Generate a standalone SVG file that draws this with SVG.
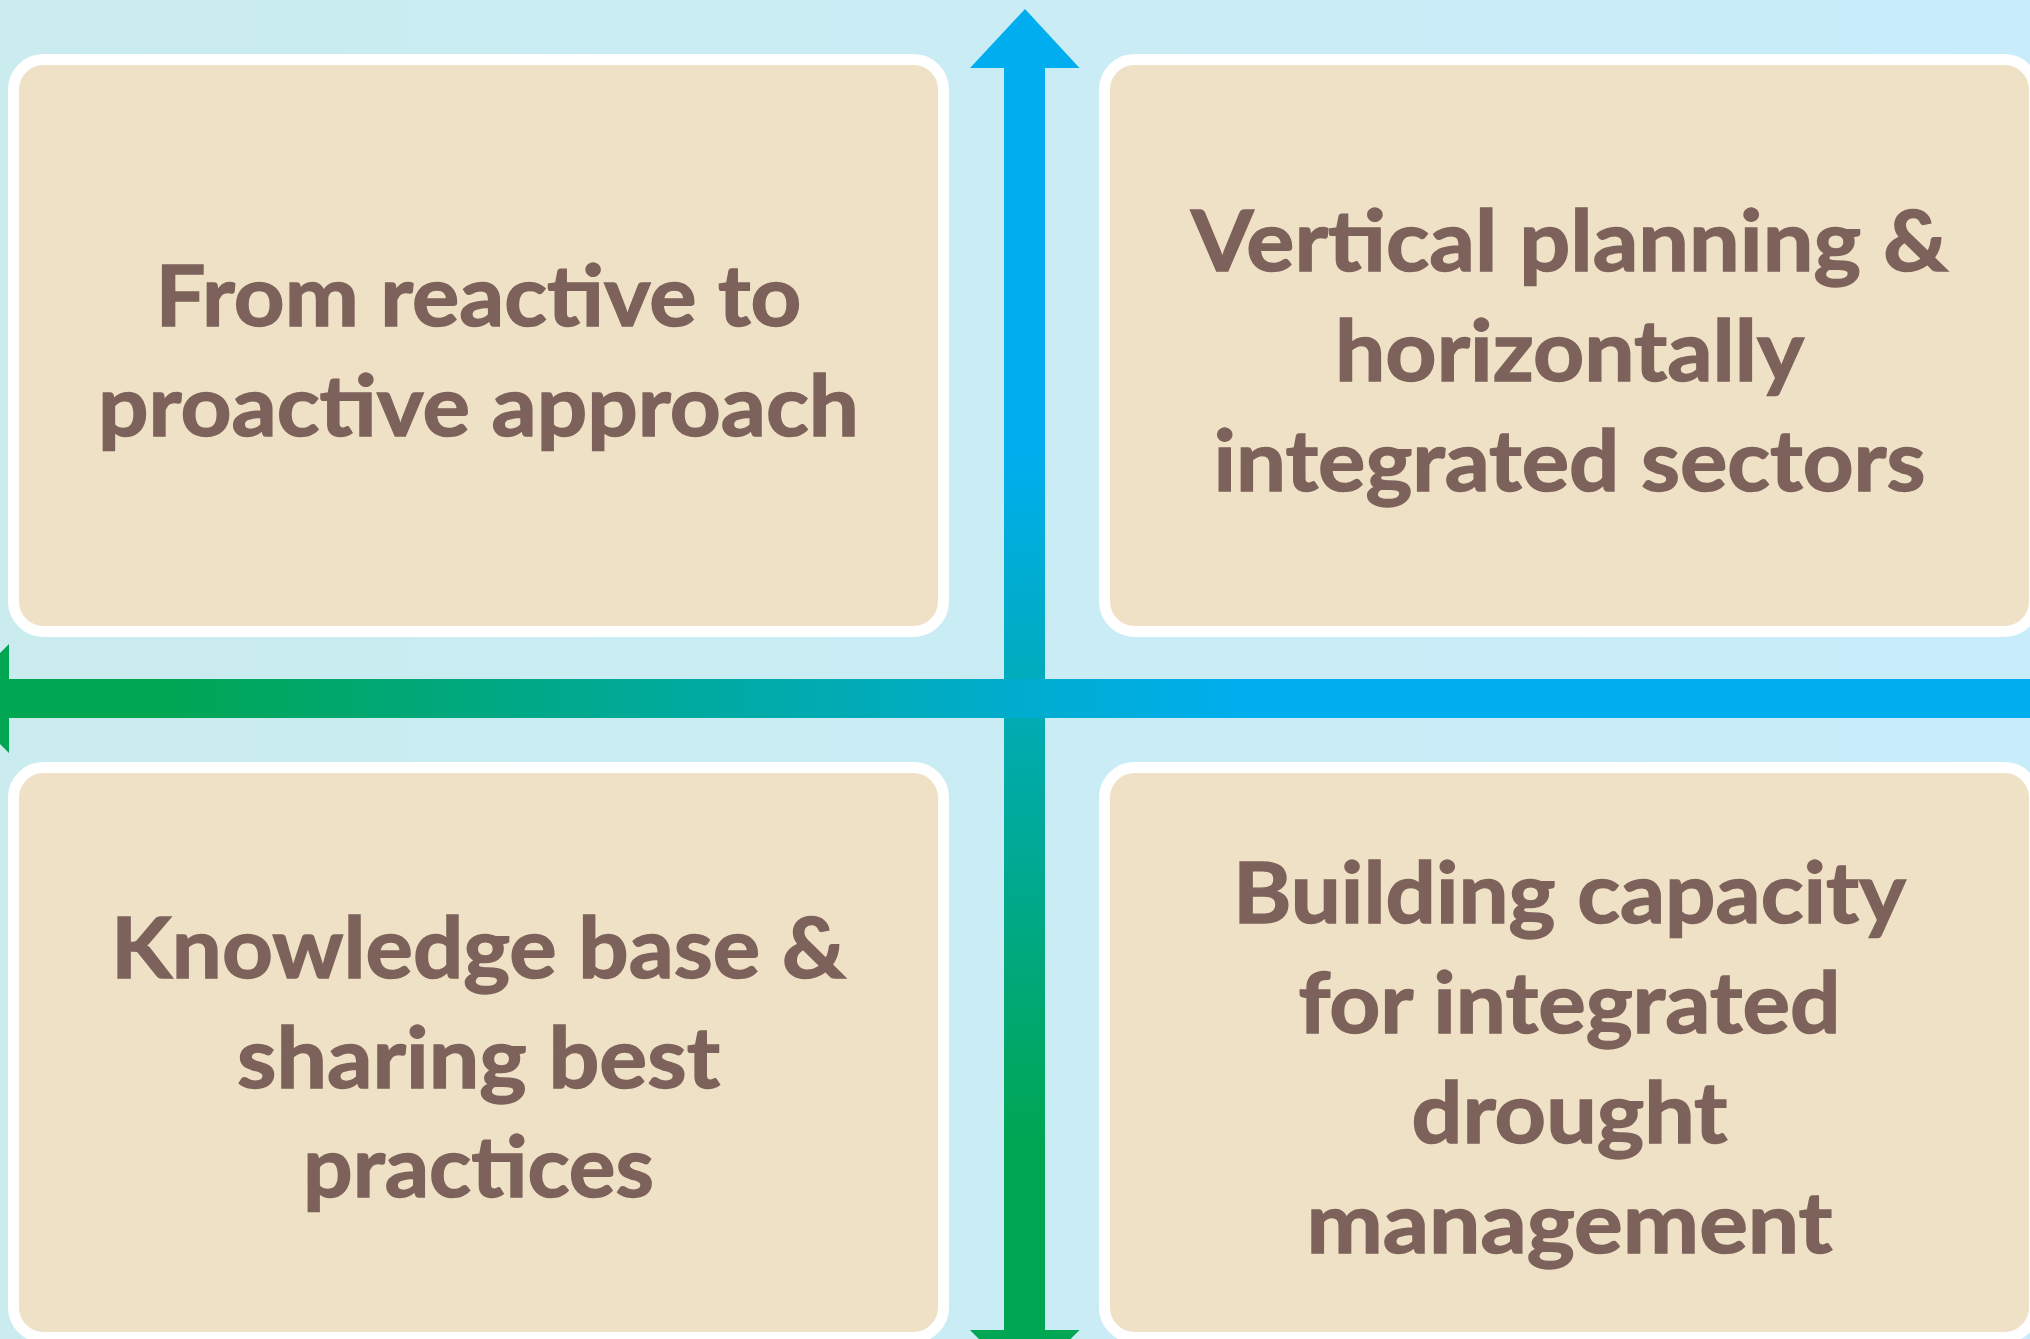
<svg xmlns="http://www.w3.org/2000/svg" width="2030" height="1339" viewBox="0 0 2030 1339">
  <defs>
    <linearGradient id="bg" x1="0" y1="0" x2="2030" y2="0" gradientUnits="userSpaceOnUse">
      <stop offset="0" stop-color="#CAECEF"/>
      <stop offset="1" stop-color="#C9ECFB"/>
    </linearGradient>
    <linearGradient id="hgrad" x1="150" y1="0" x2="1250" y2="0" gradientUnits="userSpaceOnUse">
      <stop offset="0" stop-color="#00A651"/>
      <stop offset="1" stop-color="#00AEEF"/>
    </linearGradient>
    <linearGradient id="vgrad" x1="0" y1="450" x2="0" y2="1150" gradientUnits="userSpaceOnUse">
      <stop offset="0" stop-color="#00AEEF"/>
      <stop offset="1" stop-color="#00A651"/>
    </linearGradient>
    <style>
      .box { fill: #EFE1C5; stroke: #FFFFFF; stroke-width: 11; }
      .lbl { font-family: "Lato", "Open Sans", "Liberation Sans", sans-serif; font-weight: 700; font-size: 84px; fill: #7D625B; stroke: #7D625B; stroke-width: 1.4; text-anchor: middle; }
    </style>
  </defs>

  <rect x="0" y="0" width="2030" height="1339" fill="url(#bg)"/>

  <g id="connectors">
    <path id="vertical-arrow" d="M1025,9 L1079.5,68 L1045,68 L1045,1330 L1079.5,1330 L1025,1385 L970,1330 L1004,1330 L1004,68 L970,68 Z" fill="url(#vgrad)"/>
    <path id="horizontal-arrow" d="M-45.5,698.5 L9,644 L9,679 L2040,679 L2040,718 L9,718 L9,753 Z" fill="url(#hgrad)"/>
  </g>

  <g id="node-reactive">
    <rect class="box" x="13.5" y="59.5" width="930" height="572" rx="30" ry="30"/>
    <text class="lbl" x="478.5" y="326" textLength="646" lengthAdjust="spacingAndGlyphs">From reactive to</text>
    <text class="lbl" x="478.5" y="436" textLength="761" lengthAdjust="spacingAndGlyphs">proactive approach</text>
  </g>

  <g id="node-vertical">
    <rect class="box" x="1104.5" y="59.5" width="930" height="572" rx="30" ry="30"/>
    <text class="lbl" x="1569.5" y="271" textLength="757" lengthAdjust="spacingAndGlyphs">Vertical planning &amp;</text>
    <text class="lbl" x="1569.5" y="381" textLength="469" lengthAdjust="spacingAndGlyphs">horizontally</text>
    <text class="lbl" x="1569.5" y="491" textLength="712" lengthAdjust="spacingAndGlyphs">integrated sectors</text>
  </g>

  <g id="node-knowledge">
    <rect class="box" x="13.5" y="767.5" width="930" height="570" rx="30" ry="30"/>
    <text class="lbl" x="478.5" y="978" textLength="735" lengthAdjust="spacingAndGlyphs">Knowledge base &amp;</text>
    <text class="lbl" x="478.5" y="1088" textLength="483" lengthAdjust="spacingAndGlyphs">sharing best</text>
    <text class="lbl" x="478.5" y="1197" textLength="351" lengthAdjust="spacingAndGlyphs">practices</text>
  </g>

  <g id="node-capacity">
    <rect class="box" x="1104.5" y="767.5" width="930" height="570" rx="30" ry="30"/>
    <text class="lbl" x="1569.5" y="923" textLength="673" lengthAdjust="spacingAndGlyphs">Building capacity</text>
    <text class="lbl" x="1569.5" y="1033" textLength="542" lengthAdjust="spacingAndGlyphs">for integrated</text>
    <text class="lbl" x="1569.5" y="1143" textLength="316" lengthAdjust="spacingAndGlyphs">drought</text>
    <text class="lbl" x="1569.5" y="1253" textLength="526" lengthAdjust="spacingAndGlyphs">management</text>
  </g>
</svg>
